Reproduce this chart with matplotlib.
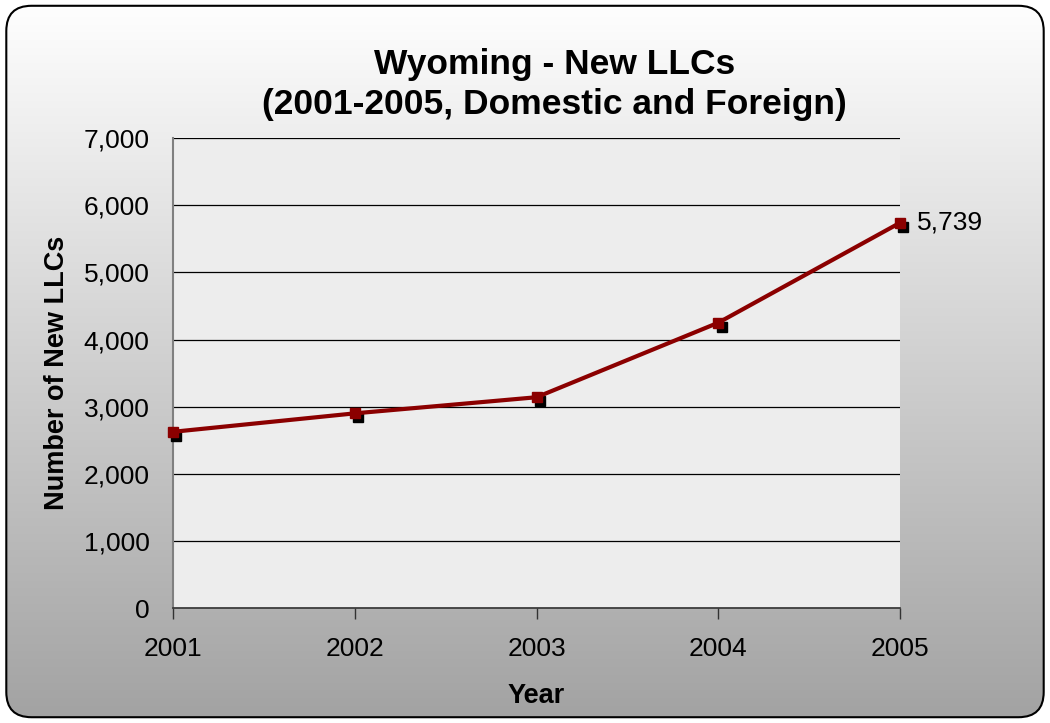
import matplotlib
matplotlib.use("Agg")
import matplotlib.pyplot as plt
import numpy as np
from matplotlib.patches import FancyBboxPatch

years = ["2001", "2002", "2003", "2004", "2005"]
new_llcs = [2625, 2900, 3140, 4250, 5739]
y_ticks = [0, 1000, 2000, 3000, 4000, 5000, 6000, 7000]

plt.rcParams["font.family"] = ["Liberation Sans", "DejaVu Sans"]

fig = plt.figure(figsize=(10.5, 7.23), dpi=100)

# background: vertical gradient inside a rounded frame
bg = fig.add_axes([0, 0, 1, 1], zorder=-10)
bg.set_axis_off()
bg.set_xlim(0, 1)
bg.set_ylim(0, 1)
grad = np.linspace(0, 1, 256).reshape(-1, 1)
img = bg.imshow(grad, extent=[0, 1, 0, 1], aspect="auto", origin="lower",
                cmap=matplotlib.colors.LinearSegmentedColormap.from_list(
                    "g", ["#a2a2a2", "#d0d0d0", "#ffffff"]))
frame = FancyBboxPatch((0.006, 0.008), 0.988, 0.984,
                       boxstyle="round,pad=0,rounding_size=0.024",
                       mutation_aspect=1050 / 723,
                       transform=bg.transAxes, facecolor="none",
                       edgecolor="black", lw=1.5)
bg.add_patch(frame)
img.set_clip_path(frame)

ax = fig.add_axes([0.1648, 0.159, 0.6924, 0.650])
ax.set_facecolor("#ededed")
x = np.arange(len(years))

# shadow squares, then the line with its markers
ax.plot(x + 0.018, np.array(new_llcs) - 60, "s", color="black", ms=7, zorder=3,
        clip_on=False)
ax.plot(x, new_llcs, "-s", color="#8b0000", lw=3, ms=7, zorder=4, clip_on=False)
ax.annotate(f"{new_llcs[-1]:,}", (x[-1], new_llcs[-1]), xytext=(12, 0),
            textcoords="offset points", va="center", ha="left", fontsize=19)

ax.set_xlim(0, len(years) - 1)
ax.set_ylim(0, 7000)
ax.set_xticks(x)
ax.set_xticklabels(years, fontsize=19)
ax.set_yticks(y_ticks)
ax.set_yticklabels([f"{v:,}" for v in y_ticks], fontsize=19)
ax.tick_params(axis="x", length=8, width=1, color="#333333", pad=13)
ax.tick_params(axis="y", length=0, pad=17)
ax.yaxis.grid(True, color="black", lw=0.9)
ax.set_axisbelow(True)
for side in ("top", "right"):
    ax.spines[side].set_visible(False)
ax.spines["left"].set_color("#808080")
ax.spines["left"].set_linewidth(1.5)
ax.spines["bottom"].set_color("#333333")
ax.spines["bottom"].set_linewidth(1.2)

ax.set_xlabel("Year", fontsize=19.5, fontweight="bold", labelpad=16)
ax.set_ylabel("Number of New LLCs", fontsize=19.5, fontweight="bold", labelpad=10)
fig.text(0.528, 0.883, "Wyoming - New LLCs\n(2001-2005, Domestic and Foreign)",
         ha="center", va="center", fontsize=25.5, fontweight="bold",
         linespacing=1.25)

fig.savefig("out.png", dpi=100)
